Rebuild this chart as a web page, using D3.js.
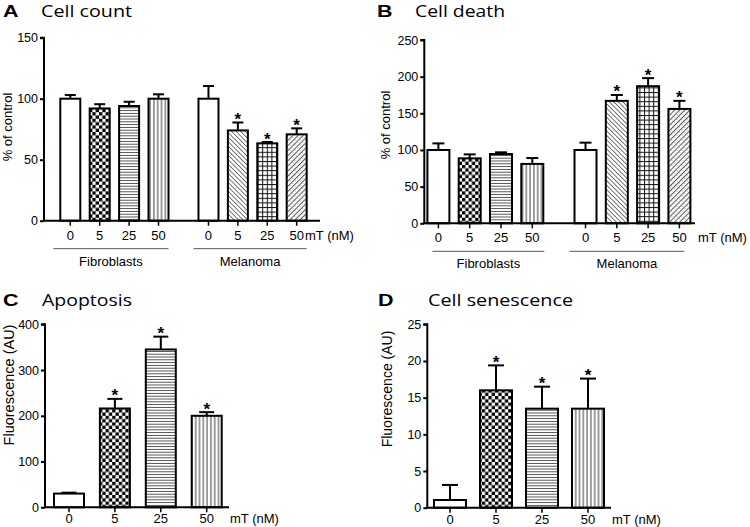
<!DOCTYPE html>
<html><head><meta charset="utf-8">
<script src="https://cdn.jsdelivr.net/npm/d3@7"></script>
<style>
html,body{margin:0;padding:0;background:#fff;}
text{font-family:"Liberation Sans",Arial,sans-serif;fill:#000;}
</style></head>
<body>
<svg id="c" width="750" height="527"></svg>
<script>
// ---------- data ----------
const doses = ["0", "5", "25", "50"];
const groupsAB = ["Fibroblasts", "Melanoma"];
const countMean = [100, 92, 94, 100, 100, 74, 63.4, 70.8];
const countErr  = [3, 3.5, 3.5, 3.6, 10.4, 6.5, 1.1, 4.9];
const countSig  = [0, 0, 0, 0, 0, 1, 1, 1];
const deathMean = [100, 88.6, 94.5, 81, 100, 167, 187, 156];
const deathErr  = [9, 5.4, 2.3, 8, 10, 8, 11, 11];
const deathSig  = [0, 0, 0, 0, 0, 1, 1, 1];
const apopMean  = [30, 216, 345, 200];
const apopErr   = [2, 21, 28, 8];
const apopSig   = [0, 1, 1, 1];
const senMean   = [1.05, 16, 13.5, 13.5];
const senErr    = [2.05, 3.4, 3.0, 4.1];
const senSig    = [0, 1, 1, 1];
const ticksA = [0, 50, 100, 150];
const ticksB = [0, 50, 100, 150, 200, 250];
const ticksC = [0, 100, 200, 300, 400];
const ticksD = [0, 5, 10, 15, 20, 25];
// pattern per bar
const patAB = ["none", "checker", "hlines", "vlines", "none", "diagB", "grid", "diagF"];
const patCD = ["none", "checker", "hlines", "vlines"];

const svg = d3.select("#c");
const defs = svg.append("defs");
function mkPat(id, w, h, draw) {
  const p = defs.append("pattern").attr("id", id).attr("patternUnits", "userSpaceOnUse")
    .attr("width", w).attr("height", h);
  p.append("rect").attr("width", w).attr("height", h).attr("fill", "#fff");
  draw(p);
}
mkPat("checker", 6.6, 6.6, p => {
  p.append("rect").attr("width", 3.3).attr("height", 3.3).attr("fill", "#000");
  p.append("rect").attr("x", 3.3).attr("y", 3.3).attr("width", 3.3).attr("height", 3.3).attr("fill", "#000");
});
mkPat("hlines", 10, 2.8, p => p.append("line").attr("x1", 0).attr("x2", 10).attr("y1", 1.4).attr("y2", 1.4).attr("stroke", "#222").attr("stroke-width", 0.8));
mkPat("vlines", 3.8, 10, p => p.append("line").attr("y1", 0).attr("y2", 10).attr("x1", 1.9).attr("x2", 1.9).attr("stroke", "#222").attr("stroke-width", 0.9));
mkPat("grid", 4.6, 4.6, p => {
  p.append("line").attr("x1", 0).attr("x2", 4.6).attr("y1", 0.5).attr("y2", 0.5).attr("stroke", "#111").attr("stroke-width", 1);
  p.append("line").attr("y1", 0).attr("y2", 4.6).attr("x1", 0.5).attr("x2", 0.5).attr("stroke", "#111").attr("stroke-width", 1);
});
mkPat("diagB", 3.2, 3.2, p => {
  p.attr("patternTransform", "rotate(-45)");
  p.append("line").attr("x1", 0).attr("x2", 0).attr("y1", 0).attr("y2", 3.2).attr("stroke", "#222").attr("stroke-width", 1.2);
});
mkPat("diagF", 3.6, 3.6, p => {
  p.attr("patternTransform", "rotate(45)");
  p.append("line").attr("x1", 0).attr("x2", 0).attr("y1", 0).attr("y2", 3.6).attr("stroke", "#222").attr("stroke-width", 1.4);
  p.append("circle").attr("cx", 1.8).attr("cy", 1.8).attr("r", 0.45).attr("fill", "#444");
});

function panel(cfg) {
  const g = svg.append("g");
  const y = d3.scaleLinear().domain([0, cfg.yMax]).range([cfg.y0, cfg.yTop]);
  const x = d3.scaleLinear().domain([0, 1]).range([cfg.c0, cfg.c0 + cfg.step]);
  const slots = cfg.mean.map((d, i) => cfg.grouped ? (i % 4) + (i >= 4 ? 4.7 : 0) : i);

  // bars
  g.selectAll("rect.bar").data(cfg.mean).join("rect")
    .attr("x", (d, i) => x(slots[i]) - cfg.bw / 2)
    .attr("y", d => y(d))
    .attr("width", cfg.bw)
    .attr("height", d => y(0) - y(d))
    .attr("fill", (d, i) => cfg.pat[i] === "none" ? "#fff" : `url(#${cfg.pat[i]})`)
    .attr("stroke", "#000").attr("stroke-width", 2);
  // error bars
  cfg.mean.forEach((m, i) => {
    const cx = x(slots[i]);
    const top = y(m + cfg.err[i]);
    g.append("line").attr("x1", cx).attr("x2", cx).attr("y1", y(m)).attr("y2", top)
      .attr("stroke", "#000").attr("stroke-width", 2);
    g.append("line").attr("x1", cx - cfg.cap).attr("x2", cx + cfg.cap).attr("y1", top).attr("y2", top)
      .attr("stroke", "#000").attr("stroke-width", 2);
    if (cfg.sig[i]) {
      g.append("text").attr("x", cx).attr("y", top + 2.5).attr("text-anchor", "middle")
        .style("font-size", "17px").style("font-weight", "bold").text("*");
    }
  });

  // y axis
  const ya = g.append("g").attr("transform", `translate(${cfg.left},0)`)
    .call(d3.axisLeft(y).tickValues(cfg.ticks).tickSize(4).tickPadding(2).tickFormat(d3.format("d")));
  ya.select(".domain").attr("d", `M-4,${cfg.yTop}H0V${cfg.y0}`).attr("stroke-width", 2);
  ya.selectAll(".tick line").attr("stroke-width", 2);
  ya.selectAll(".tick text").style("font-size", "12.5px").style("font-family", "Liberation Sans, Arial");

  // x axis line
  g.append("line").attr("x1", cfg.left - 1).attr("x2", cfg.xEnd).attr("y1", cfg.y0).attr("y2", cfg.y0)
    .attr("stroke", "#000").attr("stroke-width", 2);
  // x ticks & labels
  cfg.mean.forEach((m, i) => {
    const cx = x(slots[i]);
    g.append("line").attr("x1", cx).attr("x2", cx).attr("y1", cfg.y0).attr("y2", cfg.y0 + 5)
      .attr("stroke", "#000").attr("stroke-width", 1.5);
    g.append("text").attr("x", cx).attr("y", cfg.y0 + cfg.xlabDy).attr("text-anchor", "middle")
      .style("font-size", "13px").text(doses[i % 4]);
  });
  g.append("text").attr("x", cfg.unitX).attr("y", cfg.y0 + cfg.xlabDy).style("font-size", "13px").text("mT (nM)");

  if (cfg.grouped) {
    groupsAB.forEach((name, gi) => {
      const a = x(slots[gi * 4]) + cfg.gl[gi][0], b = x(slots[gi * 4 + 3]) + cfg.gl[gi][1];
      g.append("line").attr("x1", a).attr("x2", b).attr("y1", cfg.y0 + 28).attr("y2", cfg.y0 + 28)
        .attr("stroke", "#555").attr("stroke-width", 1);
      g.append("text").attr("x", (a + b) / 2).attr("y", cfg.y0 + 45).attr("text-anchor", "middle")
        .style("font-size", "13px").text(name);
    });
  }

  // y label
  g.append("text").attr("transform", `translate(${cfg.ylabX},${cfg.ylabY}) rotate(-90)`)
    .attr("text-anchor", "middle").style("font-size", cfg.ylabSize).text(cfg.ylab);

  // title
  g.append("text").attr("x", cfg.tx).attr("y", cfg.ty).style("font-size", "17px").style("font-weight", "bold")
    .attr("textLength", 15.5).attr("lengthAdjust", "spacingAndGlyphs")
    .style("font-family", "Liberation Sans, Arial").text(cfg.letter);
  g.append("text").attr("x", cfg.tx2).attr("y", cfg.ty).style("font-size", "16px")
    .attr("textLength", cfg.tw).attr("lengthAdjust", "spacingAndGlyphs")
    .style("font-family", "Open Sans, sans-serif").text(cfg.title);
}

panel({letter: "A", title: "Cell count", tx: 3, tx2: 41, ty: 17, tw: 91,
  mean: countMean, err: countErr, sig: countSig, pat: patAB, grouped: true,
  left: 44, y0: 220.7, yTop: 37.7, yMax: 150, ticks: ticksA,
  c0: 70.3, step: 29.4, bw: 20, cap: 5.5, xEnd: 320, unitX: 305, xlabDy: 19,
  gl: [[-17, 10], [-15, 10]], ylab: "% of control", ylabX: 12, ylabY: 127, ylabSize: "13px"});

panel({letter: "B", title: "Cell death", tx: 377, tx2: 415, ty: 17, tw: 90,
  mean: deathMean, err: deathErr, sig: deathSig, pat: patAB, grouped: true,
  left: 424.3, y0: 223.3, yTop: 40, yMax: 250, ticks: ticksB,
  c0: 438.4, step: 31.3, bw: 22, cap: 6, xEnd: 695, unitX: 698, xlabDy: 19,
  gl: [[-6, 12], [-16, 5]], ylab: "% of control", ylabX: 390, ylabY: 125, ylabSize: "13px"});

panel({letter: "C", title: "Apoptosis", tx: 3, tx2: 42, ty: 306, tw: 90,
  mean: apopMean, err: apopErr, sig: apopSig, pat: patCD, grouped: false,
  left: 45, y0: 507.3, yTop: 324.3, yMax: 400, ticks: ticksC,
  c0: 69, step: 45.9, bw: 30, cap: 7.5, xEnd: 229, unitX: 230, xlabDy: 16,
  ylab: "Fluorescence (AU)", ylabX: 14, ylabY: 385, ylabSize: "14.5px"});

panel({letter: "D", title: "Cell senescence", tx: 378, tx2: 428, ty: 306, tw: 145,
  mean: senMean, err: senErr, sig: senSig, pat: patCD, grouped: false,
  left: 427.3, y0: 507.7, yTop: 324.3, yMax: 25, ticks: ticksD,
  c0: 450, step: 46, bw: 32, cap: 8, xEnd: 611, unitX: 612, xlabDy: 16,
  ylab: "Fluorescence (AU)", ylabX: 392, ylabY: 389, ylabSize: "14px"});
</script>
</body></html>
